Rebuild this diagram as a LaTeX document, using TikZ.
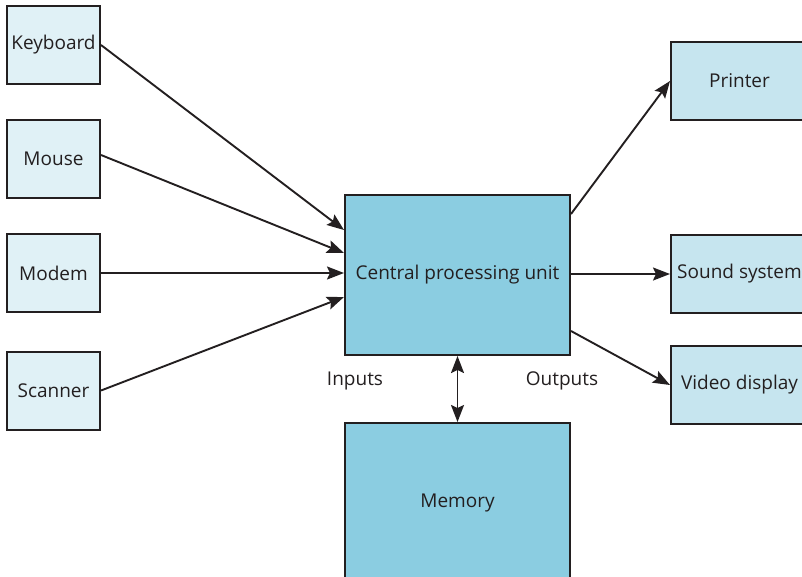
\documentclass[tikz,border=0pt]{standalone}
\usepackage{fontspec}
\setmainfont{Open Sans}
\usetikzlibrary{arrows.meta}

\definecolor{inbox}{HTML}{E0F1F6}
\definecolor{outbox}{HTML}{C6E5EF}
\definecolor{cpublue}{HTML}{8BCDE1}
\definecolor{edge}{HTML}{231F20}

\tikzset{
    unit/.style={draw=edge, line width=2pt, inner sep=0pt, font=\fontsize{19}{22}\selectfont, text=edge},
    inunit/.style={unit, fill=inbox, minimum width=93pt, minimum height=78pt},
    outunit/.style={unit, fill=outbox, minimum width=137pt, minimum height=78pt},
    flow/.style={draw=edge, line width=1.9pt, -{Stealth[length=17pt,width=13pt,inset=3pt]}}
}

\begin{document}
\begin{tikzpicture}[x=1pt, y=-1pt]

    % --- Frame (same size as the page) ---
    \useasboundingbox (0,0) rectangle (802,576);
    \clip (0,0) rectangle (802,576);

    % --- Input devices ---
    \node[inunit] (Keyboard) at (53.5,45) {Keyboard};
    \node[inunit] (Mouse) at (53.5,159) {Mouse};
    \node[inunit] (Modem) at (53.5,273) {Modem};
    \node[inunit] (Scanner) at (53.5,390.5) {Scanner};

    % --- Processor and memory ---
    \node[unit, fill=cpublue, minimum width=225pt, minimum height=160pt] (CPU) at (457.5,275) {Central processing unit};
    \node[unit, fill=cpublue, minimum width=225pt, minimum height=160pt] (Memory) at (457.5,503) {Memory};

    % --- Output devices ---
    \node[outunit] (Printer) at (739.5,81) {Printer};
    \node[outunit] (Sound) at (739.5,274) {Sound system};
    \node[outunit] (Video) at (739.5,385) {Video display};

    % --- Connections ---
    \draw[flow] (Keyboard.east) -- ([yshift=45pt]CPU.west);
    \draw[flow] ([yshift=4pt]Mouse.east) -- ([yshift=22pt]CPU.west);
    \draw[flow] (Modem.east) -- ([yshift=2pt]CPU.west);
    \draw[flow] (Scanner.east) -- ([yshift=-22pt]CPU.west);

    \draw[flow] ([yshift=61pt]CPU.east) -- (Printer.west);
    \draw[flow] ([yshift=1pt]CPU.east) -- (Sound.west);
    \draw[flow] ([yshift=-56pt]CPU.east) -- (Video.west);

    \draw[flow, {Stealth[length=17pt,width=13pt,inset=3pt]}-{Stealth[length=17pt,width=13pt,inset=3pt]}] (CPU.south) -- (Memory.north);

    % --- Labels ---
    \node[font=\fontsize{19}{22}\selectfont, text=edge] (InLabel) at (355,381) {Inputs};
    \node[font=\fontsize{19}{22}\selectfont, text=edge] (OutLabel) at (562,381) {Outputs};

\end{tikzpicture}
\end{document}
